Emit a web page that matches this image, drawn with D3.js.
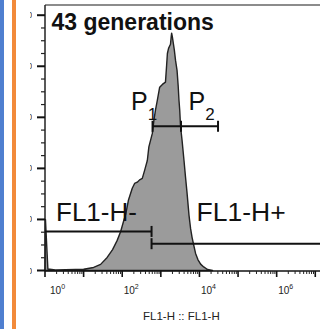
<!DOCTYPE html>
<html lang="en">
<head>
<meta charset="UTF-8">
<title>43 generations</title>
<script src="https://d3js.org/d3.v7.min.js"></script>
<style>
  body { margin: 0; background: #fff; }
  svg { display: block; font-family: "Liberation Sans", Arial, sans-serif; }
</style>
</head>
<body>
<svg id="chart" width="320" height="329"></svg>
<script>
    // histogram outline: FL1-H position in decades, count scaled 0-100
    const histDecade = [0.0, 0.012, 0.05, 0.075, 0.27, 0.53, 0.79, 1.0, 1.26, 1.44, 1.61, 1.75, 1.87, 1.96,
        2.04, 2.09, 2.16, 2.26, 2.32, 2.39, 2.45, 2.52, 2.58, 2.65, 2.69, 2.78, 2.82, 2.86, 2.91, 2.97,
        3.04, 3.12, 3.15, 3.17, 3.2, 3.25, 3.27, 3.28, 3.30, 3.32, 3.35, 3.38, 3.42, 3.45, 3.47, 3.49,
        3.51, 3.55, 3.60, 3.64, 3.68, 3.73, 3.77, 3.81, 3.86, 3.90, 3.96, 4.03, 4.11, 4.21, 4.34];
    const histCount = [0, 20, 8, 0.6, 0.2, 0.3, 0.4, 0.5, 1.2, 2.4, 5.1, 8.2, 11.8, 15.3,
        19.6, 22, 27.5, 32.2, 34.1, 34.6, 35.5, 36.1, 39.2, 43.1, 48.4, 53.7, 58.8, 62.7, 66.7, 71.8,
        72.9, 73.8, 80.4, 85, 87, 88.6, 91.8, 93, 91.4, 89.4, 86.3, 82.4, 78.4, 72.2, 66.7, 62.7,
        56.5, 51, 43.1, 36.5, 30.2, 21.6, 16.5, 12.9, 9.4, 6.7, 4.3, 2.5, 1.4, 0.4, 0];

    const yMajor = [0, 20, 40, 60, 80, 100];
    const yMinor = d3.range(0, 101, 5);
    const xDecades = [0, 1, 2, 3, 4, 5, 6, 7];
    const xLabelDecades = [0, 2, 4, 6];

    // gates: [from, to] in FL1-H, level in count units
    const gateP = [610, 3330, 30300];
    const gatePLevel = 56.5;
    const gateNeg = [1, 575];
    const gateNegLevel = 15.3;
    const gatePos = [575, 3e7];
    const gatePosLevel = 10.5;

    const svg = d3.select("#chart");

    // page decoration at the left edge
    svg.append("rect").attr("x", 0).attr("y", 0).attr("width", 4).attr("height", 329).attr("fill", "#4f7fd0");
    svg.append("rect").attr("x", 12).attr("y", 0).attr("width", 4).attr("height", 329).attr("fill", "#f28a3a");

    const x = d3.scaleLog().domain([1, Math.pow(10, 7.2)]).range([45, 323]);
    const y = d3.scaleLinear().domain([0, 104]).range([270.5, 5]);

    // histogram
    const area = d3.area()
        .x(d => x(Math.pow(10, d[0])))
        .y0(y(0))
        .y1(d => y(d[1]));
    const pts = histDecade.map((d, i) => [d, histCount[i]]);
    svg.append("path")
        .datum(pts)
        .attr("d", area)
        .attr("fill", "#9b9b9b")
        .attr("stroke", "#222")
        .attr("stroke-width", 1.4)
        .attr("stroke-linejoin", "round");

    // frame top
    svg.append("line").attr("x1", 45).attr("x2", 320).attr("y1", 5).attr("y2", 5)
        .attr("stroke", "#666").attr("stroke-width", 1.5);

    // y axis
    const gy = svg.append("g");
    gy.append("line").attr("x1", 45).attr("x2", 45).attr("y1", 5).attr("y2", 271)
        .attr("stroke", "#222").attr("stroke-width", 1.5);
    gy.selectAll(".ymin").data(yMinor.filter(v => !yMajor.includes(v))).enter().append("line")
        .attr("x1", 41).attr("x2", 45).attr("y1", d => y(d)).attr("y2", d => y(d))
        .attr("stroke", "#222").attr("stroke-width", 1.2);
    gy.selectAll(".ymaj").data(yMajor).enter().append("line")
        .attr("x1", 37).attr("x2", 45).attr("y1", d => y(d)).attr("y2", d => y(d))
        .attr("stroke", "#111").attr("stroke-width", 2);

    // y tick labels, mostly cropped away in the original
    svg.append("clipPath").attr("id", "ylab")
        .append("rect").attr("x", 30).attr("y", 0).attr("width", 2).attr("height", 329);
    gy.append("g").attr("clip-path", "url(#ylab)")
        .selectAll("text").data(yMajor).enter().append("text")
        .attr("x", 32.3).attr("y", d => y(d) + 3)
        .attr("text-anchor", "end").attr("font-size", 9).attr("fill", "#444")
        .text(d => d);

    // x axis
    const gx = svg.append("g");
    gx.append("line").attr("x1", 45).attr("x2", 320).attr("y1", 271).attr("y2", 271)
        .attr("stroke", "#111").attr("stroke-width", 1.5);
    const minors = [];
    xDecades.forEach(dd => { for (let k = 2; k < 10; k++) minors.push(k * Math.pow(10, dd)); });
    gx.selectAll(".xmin").data(minors).enter().append("line")
        .attr("x1", d => x(d)).attr("x2", d => x(d)).attr("y1", 271).attr("y2", 274)
        .attr("stroke", "#222").attr("stroke-width", 1);
    gx.selectAll(".xmaj").data(xDecades).enter().append("line")
        .attr("x1", d => x(Math.pow(10, d))).attr("x2", d => x(Math.pow(10, d)))
        .attr("y1", 271).attr("y2", 277)
        .attr("stroke", "#111").attr("stroke-width", 1.6);
    const xl = gx.selectAll(".xlab").data(xLabelDecades).enter().append("text")
        .attr("x", d => Math.max(x(Math.pow(10, d)) + 1.5, 50))
        .attr("y", 294)
        .attr("font-size", 10).attr("fill", "#222");
    xl.append("tspan").text("10");
    xl.append("tspan").attr("dy", -5).attr("font-size", 7).text(d => d);

    svg.append("text").attr("x", 143).attr("y", 320)
        .attr("font-size", 11.5).attr("fill", "#222")
        .text("FL1-H :: FL1-H");

    // gates
    function gate(range, level, ticks) {
        const g = svg.append("g").attr("stroke", "#111").attr("stroke-width", 2);
        g.append("line").attr("x1", x(range[0])).attr("x2", x(range[range.length - 1]))
            .attr("y1", y(level)).attr("y2", y(level));
        ticks.forEach(v => {
            g.append("line").attr("x1", x(v)).attr("x2", x(v))
                .attr("y1", y(level) - 5.5).attr("y2", y(level) + 5.5);
        });
    }
    gate(gateP, gatePLevel, gateP);
    gate(gateNeg, gateNegLevel, [gateNeg[1]]);
    gate(gatePos, gatePosLevel, [gatePos[0]]);

    // labels
    svg.append("text").attr("x", 51.5).attr("y", 30)
        .attr("font-size", 23).attr("font-weight", "bold").attr("fill", "#111")
        .text("43 generations");

    const p1 = svg.append("text").attr("x", 131).attr("y", 110).attr("font-size", 25).attr("fill", "#111");
    p1.append("tspan").text("P");
    p1.append("tspan").attr("dy", 10).attr("font-size", 17).text("1");
    const p2 = svg.append("text").attr("x", 188.5).attr("y", 110).attr("font-size", 25).attr("fill", "#111");
    p2.append("tspan").text("P");
    p2.append("tspan").attr("dy", 10).attr("font-size", 17).text("2");

    svg.append("text").attr("x", 56).attr("y", 220.5).attr("font-size", 26).attr("fill", "#111")
        .text("FL1-H-");
    svg.append("text").attr("x", 196.5).attr("y", 220.5).attr("font-size", 26.5).attr("fill", "#111")
        .text("FL1-H+");
</script>
</body>
</html>
